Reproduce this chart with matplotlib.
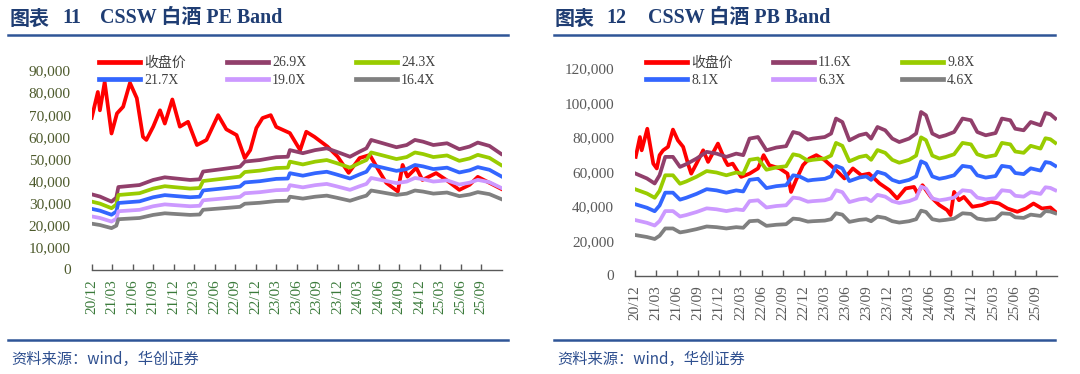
import matplotlib
matplotlib.use("Agg")
import matplotlib.pyplot as plt
from matplotlib.lines import Line2D
import numpy as np

# ---------------- data (x = months since 2020/12, values in index points) -------------
quarter_labels = ["20/12", "21/03", "21/06", "21/09", "21/12", "22/03", "22/06", "22/09",
                  "22/12", "23/03", "23/06", "23/09", "23/12", "24/03", "24/06", "24/09",
                  "24/12", "25/03", "25/06", "25/09"]

# PE panel
pe_close_m = [0, 0.9, 1.2, 1.9, 2.9, 3.7, 4.6, 5.6, 6.6, 7.5, 8.0, 9.0, 10.0, 10.7, 11.8,
              12.9, 14.1, 15.4, 16.8, 18.5, 19.7, 21.2, 22.4, 23.2, 24.1, 25.0, 26.2, 27.0,
              29.0, 30.5, 31.4, 32.6, 34.5, 36.0, 37.6, 39.2, 40.7, 42.1, 43.1, 44.8, 45.5,
              46.2, 47.5, 48.4, 50.4, 51.9, 53.8, 55.3, 56.5, 58.2, 59.9]
pe_close = [68.6, 80.3, 72.0, 84.8, 61.5, 70.6, 73.6, 84.4, 77.5, 60.0, 58.6, 64.6, 72.0,
            66.0, 76.9, 64.6, 66.8, 56.3, 58.6, 69.8, 63.4, 60.8, 50.4, 54.0, 64.0, 68.5,
            69.8, 64.5, 61.7, 54.0, 62.3, 60.0, 55.6, 51.0, 43.7, 50.4, 51.8, 44.3, 39.2,
            35.3, 47.3, 42.0, 46.0, 40.5, 43.6, 40.5, 36.0, 38.3, 41.9, 39.2, 36.5]
pe_band_m = [0.0, 1.2, 2.9, 3.6, 3.9, 7.0, 9.0, 10.7, 11.9, 14.4, 15.8, 16.3, 18.8, 21.7,
             22.4, 24.6, 27.0, 28.7, 29.0, 30.9, 32.7, 34.4, 35.8, 37.8, 39.2, 40.2, 40.9,
             42.6, 44.6, 46.1, 47.3, 48.5, 50.0, 52.0, 53.8, 55.3, 56.5, 58.2, 59.9]
pe_band_top = [34.0, 33.0, 30.7, 32.5, 37.3, 38.2, 40.5, 41.7, 41.3, 40.5, 40.8, 44.3, 45.3,
               46.5, 48.8, 49.5, 50.8, 51.0, 54.0, 52.6, 54.0, 54.8, 53.3, 51.0, 53.3, 54.8,
               58.6, 57.1, 55.3, 56.3, 58.6, 57.8, 56.3, 57.1, 54.4, 55.6, 57.4, 55.9, 52.3]
pe_multiples = [26.9, 24.3, 21.7, 19.0, 16.4]
pe_labels = ["收盘价", "26.9X", "24.3X", "21.7X", "19.0X", "16.4X"]

# PB panel
pb_close_m = [0.1, 0.7, 0.95, 1.75, 2.6, 3.1, 3.5, 4.0, 4.7, 5.4, 6.1, 6.85, 7.6, 8.0, 8.75,
              9.7, 10.4, 11.8, 12.8, 13.2, 13.9, 15.1, 16.3, 17.5, 18.3, 19.1, 20.6, 21.7,
              22.2, 22.9, 23.9, 24.8, 25.8, 27.0, 28.6, 29.8, 31.0, 32.2, 33.3, 34.8, 36.2,
              37.3, 38.5, 39.7, 40.2, 40.9, 42.1, 43.3, 44.4, 44.9, 45.4, 46.1, 46.8, 48.0,
              49.4, 50.6, 51.8, 53.0, 54.4, 55.6, 56.7, 57.9, 59.1, 59.8]
pb_close = [68.7, 80.2, 72.5, 85.0, 64.8, 62.0, 69.7, 72.5, 74.5, 84.5, 78.3, 74.5, 63.9,
            59.0, 64.8, 72.5, 65.8, 76.4, 66.8, 63.9, 64.8, 57.1, 59.0, 62.0, 69.7, 63.9,
            62.0, 59.0, 48.4, 55.2, 63.9, 67.7, 69.7, 66.8, 61.0, 56.2, 62.0, 58.1, 59.0,
            53.3, 49.4, 44.6, 50.4, 51.3, 47.5, 52.3, 45.5, 40.8, 37.9, 35.0, 48.4, 43.6,
            45.5, 39.8, 40.8, 42.7, 41.7, 38.8, 36.9, 38.8, 41.7, 38.8, 39.4, 36.9]
pb_band_m = [0.1, 1.7, 2.8, 3.5, 4.3, 5.4, 6.4, 7.3, 8.75, 10.2, 11.6, 13.0, 14.4, 15.4,
             16.3, 17.5, 18.7, 20.1, 21.5, 22.5, 23.4, 24.6, 25.3, 27.0, 27.9, 28.6, 29.5,
             30.5, 31.9, 32.9, 33.6, 34.5, 35.6, 36.6, 37.6, 39.0, 40.0, 40.7, 41.4, 42.3,
             43.3, 44.2, 45.4, 46.6, 47.8, 48.7, 49.9, 51.3, 52.2, 53.4, 54.1, 55.3, 56.3,
             57.7, 58.4, 59.1, 59.8]
pb_band_top = [59.0, 56.2, 53.3, 58.1, 68.7, 68.7, 62.9, 64.5, 67.7, 71.6, 70.6, 68.7, 70.6,
               69.7, 79.3, 80.2, 72.5, 74.1, 74.9, 83.1, 82.2, 78.7, 79.3, 80.2, 82.2, 90.9,
               88.9, 78.3, 81.2, 82.2, 79.3, 86.0, 84.1, 79.3, 77.3, 79.3, 82.2, 94.7, 92.8,
               82.2, 80.2, 81.2, 83.1, 90.9, 89.9, 83.1, 81.2, 82.5, 90.9, 89.9, 85.0, 84.1,
               88.9, 87.0, 94.1, 93.4, 90.9]
pb_multiples = [11.6, 9.8, 8.1, 6.3, 4.6]
pb_labels = ["收盘价", "11.6X", "9.8X", "8.1X", "6.3X", "4.6X"]

# ---------------- styling ----------------
W, H = 1080, 374
COLORS = ["#FF0000", "#913F6B", "#99CC00", "#3366FF", "#CC99FF", "#808080"]
TITLE_C = "#1F3D73"
RULE_C = "#2F5597"
SRC_C = "#2E4F8F"
SERIF = ["Liberation Serif", "Noto Sans CJK SC"]
plt.rcParams["font.family"] = SERIF


def fx(px):
    return px / W


def fy(py):
    return 1 - py / H


fig = plt.figure(figsize=(10.8, 3.74), dpi=100)
fig.patch.set_facecolor("white")


def header(x0, num, rest_x, num_x, text, src_x, rule_x0, rule_x1):
    fig.text(fx(x0), fy(18), "图表", fontsize=14.4, fontweight="bold", color=TITLE_C,
             va="center", ha="left", family=["Noto Sans CJK SC"])
    fig.text(fx(num_x), fy(18), num, fontsize=14.4, fontweight="bold", color=TITLE_C,
             va="center", ha="left", family=SERIF)
    fig.text(fx(rest_x), fy(18), text, fontsize=14.4, fontweight="bold", color=TITLE_C,
             va="center", ha="left", family=SERIF)
    for yy in (35, 339.5):
        fig.add_artist(Line2D([fx(rule_x0), fx(rule_x1)], [fy(yy), fy(yy)],
                              transform=fig.transFigure, color=RULE_C, lw=1.8))
    fig.text(fx(src_x), fy(359), "资料来源：wind，华创证券", fontsize=11, color=SRC_C,
             va="center", ha="left", family=["Noto Sans CJK SC"])


header(10, "11", 100, 62, "CSSW 白酒 PE Band", 11, 8, 508)
header(555, "12", 648, 606, "CSSW 白酒 PB Band", 557, 554, 1055)


def panel(rect_px, ymax, yticks, close_m, close, band_m, band_top, multiples, labels,
          ylab_c, xlab_c, legend_cols, legend_top):
    x0, x1, ytop, ybot = rect_px
    ax = fig.add_axes([fx(x0), fy(ybot), fx(x1 - x0), (ybot - ytop) / H])
    ax.set_xlim(0, 60)
    ax.set_ylim(0, ymax)
    handles = []
    h, = ax.plot(close_m, np.array(close) * 1000, color=COLORS[0], lw=2.7, zorder=2,
                 solid_joinstyle="round")
    handles.append(h)
    for i, mlt in enumerate(multiples):
        vals = np.array(band_top) * 1000 * mlt / multiples[0]
        h, = ax.plot(band_m, vals, color=COLORS[i + 1], lw=2.7, zorder=3,
                     solid_joinstyle="round")
        handles.append(h)
    for s in ("left", "right", "top"):
        ax.spines[s].set_visible(False)
    ax.spines["bottom"].set_color("#595959")
    ax.spines["bottom"].set_linewidth(1.0)
    ax.set_xticks(np.arange(0, 60, 3))
    ax.set_xticklabels(quarter_labels, rotation=90, fontsize=11, color=xlab_c,
                       family=SERIF)
    ax.tick_params(axis="x", direction="in", length=4, width=1, color="#595959", pad=7)
    ax.set_yticks(yticks)
    ax.set_yticklabels([f"{v:,}" for v in yticks], fontsize=11, color=ylab_c,
                       family=SERIF)
    ax.tick_params(axis="y", length=0, pad=15)
    ax.set_facecolor("none")
    # legend: three columns of two rows
    order = [(0, 3), (1, 4), (2, 5)]
    for (a, b), cx in zip(order, legend_cols):
        leg = fig.legend([handles[a], handles[b]], [labels[a], labels[b]],
                         loc="upper left", bbox_to_anchor=(fx(cx), fy(legend_top)),
                         bbox_transform=fig.transFigure, frameon=False, borderpad=0,
                         borderaxespad=0, handlelength=2.95, handletextpad=0.3,
                         labelspacing=0.32,
                         prop={"family": SERIF, "size": 10})
        for t in leg.get_texts():
            t.set_color("#404040")
        for ln in leg.get_lines():
            ln.set_linewidth(3.4)
    return ax


panel((91.7, 501.7, 70.5, 269.5), 90000, list(range(0, 90001, 10000)),
      pe_close_m, pe_close, pe_band_m, pe_band_top, pe_multiples, pe_labels,
      "#4D5A2C", "#3A7A3A", [99, 227, 356], 56.5)
panel((635, 1056.7, 68.3, 275.5), 120000, list(range(0, 120001, 20000)),
      pb_close_m, pb_close, pb_band_m, pb_band_top, pb_multiples, pb_labels,
      "#595959", "#595959", [646, 773, 902], 56.5)

fig.savefig("out.png", dpi=100, facecolor="white")
